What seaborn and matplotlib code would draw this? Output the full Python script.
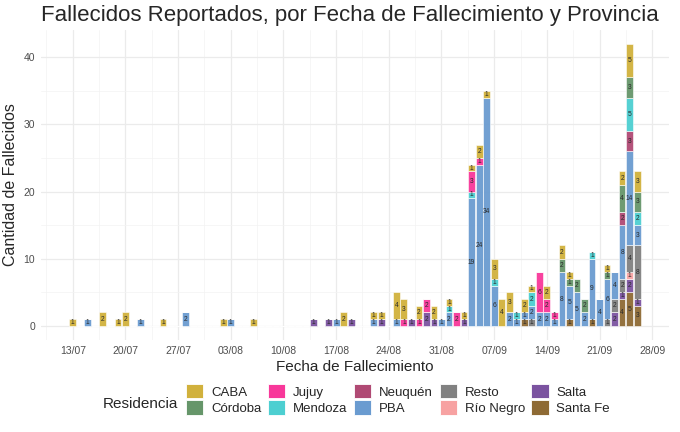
import numpy as np
import pandas as pd
import matplotlib
matplotlib.use("Agg")
import matplotlib.pyplot as plt
import seaborn as sns
from matplotlib.patches import Patch

sns.set_theme(style="whitegrid")
plt.rcParams['font.family'] = ['Liberation Sans', 'DejaVu Sans']

# fallecidos por fecha de fallecimiento (dd/mm, 2020) y provincia
caba = {"13/07": 1, "17/07": 2, "19/07": 1, "20/07": 2, "25/07": 1, "02/08": 1, "06/08": 1,
        "18/08": 2, "22/08": 1, "23/08": 1, "25/08": 4, "26/08": 3, "28/08": 2, "30/08": 2,
        "01/09": 1, "03/09": 1, "04/09": 1, "05/09": 2, "06/09": 1, "07/09": 3, "08/09": 4,
        "09/09": 3, "11/09": 2, "12/09": 1, "14/09": 2, "16/09": 2, "17/09": 1, "22/09": 1,
        "24/09": 2, "25/09": 5, "26/09": 3}
cordoba = {"16/09": 2, "17/09": 1, "18/09": 2, "19/09": 2, "22/09": 1, "24/09": 4, "25/09": 3,
           "26/09": 3}
jujuy = {"26/08": 1, "28/08": 1, "29/08": 2, "02/09": 2, "04/09": 3, "05/09": 1, "13/09": 6,
         "14/09": 2, "15/09": 1}
mendoza = {"01/09": 1, "04/09": 1, "07/09": 1, "10/09": 1, "12/09": 2, "20/09": 1, "25/09": 5,
           "26/09": 2}
neuquen = {"24/09": 2, "25/09": 3}
pba = {"15/07": 1, "22/07": 1, "28/07": 2, "03/08": 1, "17/08": 1, "22/08": 1, "25/08": 1,
       "31/08": 1, "01/09": 2, "04/09": 19, "05/09": 24, "06/09": 34, "07/09": 6, "09/09": 2,
       "10/09": 1, "11/09": 1, "12/09": 2, "13/09": 2, "14/09": 2, "15/09": 1, "16/09": 8,
       "17/09": 5, "18/09": 5, "19/09": 2, "20/09": 9, "21/09": 4, "22/09": 6, "23/09": 4,
       "24/09": 8, "25/09": 14, "26/09": 3}
resto = {"12/09": 1, "22/09": 1, "23/09": 2, "24/09": 2, "25/09": 4, "26/09": 8}
rio_negro = {"25/09": 1}
salta = {"14/08": 1, "16/08": 1, "19/08": 1, "23/08": 1, "27/08": 1, "29/08": 2, "30/08": 1,
         "03/09": 1, "23/09": 2, "24/09": 1, "25/09": 2, "26/09": 1}
santa_fe = {"11/09": 1, "17/09": 1, "20/09": 1, "24/09": 4, "25/09": 5, "26/09": 3}

provincias = ["CABA", "Córdoba", "Jujuy", "Mendoza", "Neuquén", "PBA", "Resto", "Río Negro",
              "Salta", "Santa Fe"]
colores = ["#D1B13C", "#66966A", "#F8389A", "#4DCFD1", "#B04A74", "#6A9BD0", "#818181",
           "#F7A2A2", "#7B53A0", "#8E6A34"]
tick_labels = ["13/07", "20/07", "27/07", "03/08", "10/08", "17/08", "24/08", "31/08",
               "07/09", "14/09", "21/09", "28/09"]

inicio = pd.Timestamp("2020-07-13")


def dia(fecha: str) -> int:
    d, m = fecha.split("/")
    return (pd.Timestamp(2020, int(m), int(d)) - inicio).days


registros = []
for prov, datos in zip(provincias, [caba, cordoba, jujuy, mendoza, neuquen, pba, resto,
                                    rio_negro, salta, santa_fe]):
    for fecha, n in datos.items():
        registros.append({"dia": dia(fecha), "provincia": prov, "n": n})
df = pd.DataFrame(registros)
paleta = dict(zip(provincias, colores))

fig = plt.figure(figsize=(6.8, 4.32), dpi=100)
ax = fig.add_axes([0.060, 0.213, 0.924, 0.718])

sns.histplot(data=df, x="dia", hue="provincia", weights="n", hue_order=provincias,
             palette=paleta, multiple="stack", discrete=True, shrink=0.9,
             edgecolor="white", linewidth=0.4, alpha=0.95, legend=False, ax=ax)

# etiquetas dentro de cada segmento
tabla = df.pivot_table(index="dia", columns="provincia", values="n", aggfunc="sum",
                       fill_value=0).reindex(columns=provincias, fill_value=0)
for d, fila in tabla.iterrows():
    base = 0
    for prov in provincias[::-1]:
        n = fila[prov]
        if n > 0:
            ax.text(d, base + n / 2, str(n), ha="center", va="center", fontsize=4.8,
                    color="#2B2B2B")
            base += n

ax.set_xlim(-4.25, 79.25)
ax.set_ylim(-2.1, 44.1)
ax.set_xticks(np.arange(0, 78, 7))
ax.set_xticklabels(tick_labels)
ax.set_xticks(np.arange(-3.5, 80, 7), minor=True)
ax.set_yticks([0, 10, 20, 30, 40])
ax.set_yticks([5, 15, 25, 35], minor=True)
ax.grid(which="major", color="#EBEBEB", linewidth=0.9)
ax.grid(which="minor", color="#F3F3F3", linewidth=0.5)
ax.tick_params(which="both", length=0, labelsize=7.5, labelcolor="#4D4D4D", pad=4)
for s in ax.spines.values():
    s.set_visible(False)

ax.set_xlabel("Fecha de Fallecimiento", fontsize=11, labelpad=3)
ax.set_ylabel("Cantidad de Fallecidos", fontsize=11.5, labelpad=4)
fig.text(0.060, 0.965, "Fallecidos Reportados, por Fecha de Fallecimiento y Provincia",
         fontsize=16, ha="left", va="center")

handles = [Patch(facecolor=c, edgecolor="white", linewidth=0.6) for c in colores]
fig.legend(handles, provincias, ncol=5, loc="upper left",
           bbox_to_anchor=(186 / 680, 1 - 384 / 432), frameon=False, fontsize=9.5,
           handlelength=1.3, handleheight=1.3, labelspacing=0.12,
           handletextpad=0.6, columnspacing=0.5, borderpad=0, borderaxespad=0)
fig.text(103 / 680, 1 - 404 / 432, "Residencia", fontsize=11, ha="left", va="center")

fig.savefig("out.png", dpi=100)
